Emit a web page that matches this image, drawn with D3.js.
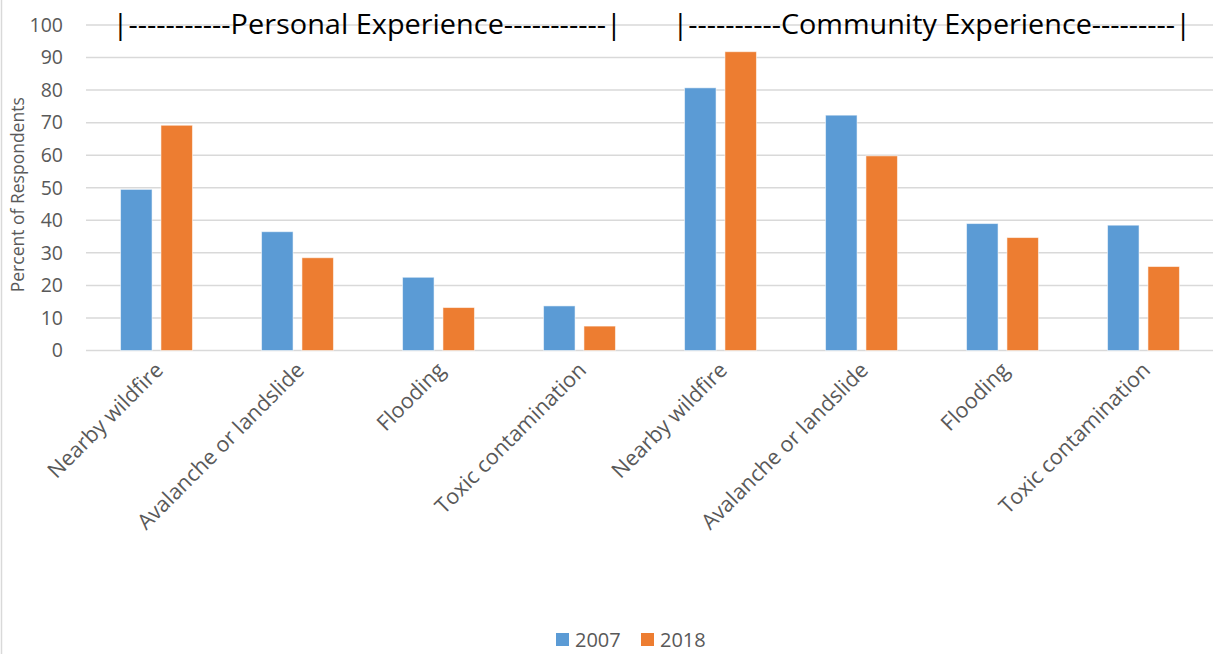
<!DOCTYPE html>
<html>
<head>
<meta charset="utf-8">
<script src="https://cdn.jsdelivr.net/npm/d3@7"></script>
<style>
  html, body { margin: 0; padding: 0; background: #fff; }
  svg { display: block; }
</style>
</head>
<body>
<div id="chart"></div>
<script>
// Hazard experience by category, 2007 vs 2018
const categories = [
  "Nearby wildfire", "Avalanche or landslide", "Flooding", "Toxic contamination",
  "Nearby wildfire", "Avalanche or landslide", "Flooding", "Toxic contamination"
];
const years = ["2007", "2018"];
const values2007 = [49.5, 36.5, 22.5, 13.7, 80.7, 72.3, 39.0, 38.5];
const values2018 = [69.2, 28.5, 13.2, 7.5, 91.8, 59.8, 34.7, 25.8];
const yTicks = [0, 10, 20, 30, 40, 50, 60, 70, 80, 90, 100];
const groupLabels = [
  { text: "|-----------Personal Experience-----------|", from: 0, to: 3 },
  { text: "|----------Community Experience---------|", from: 4, to: 7 }
];
const colors = { "2007": "#5B9BD5", "2018": "#ED7D31" };

const W = 1213, H = 654;
const margin = { left: 86, right: -1, top: 25, bottom: 303.5 };
const plotR = W - margin.right;
const plotB = H - margin.bottom;
const FONT = "'Open Sans', 'Liberation Sans', sans-serif";

const svg = d3.select("#chart").append("svg")
  .attr("width", W).attr("height", H)
  .style("font-family", FONT);

// chart area border (left edge)
svg.append("line")
  .attr("x1", 1.5).attr("x2", 1.5).attr("y1", 0).attr("y2", H)
  .attr("stroke", "#D9D9D9").attr("stroke-width", 1.5);

const x0 = d3.scaleBand()
  .domain(d3.range(categories.length))
  .range([margin.left, plotR])
  .paddingInner(0.49)
  .paddingOuter(0.245);

const x1 = d3.scaleBand()
  .domain(years)
  .range([0, x0.bandwidth()])
  .paddingInner(0.22);

const y = d3.scaleLinear().domain([0, 100]).range([plotB, margin.top]);

// gridlines
svg.append("g")
  .selectAll("line")
  .data(yTicks)
  .join("line")
  .attr("x1", margin.left).attr("x2", plotR)
  .attr("y1", d => y(d)).attr("y2", d => y(d))
  .attr("stroke", "#D9D9D9").attr("stroke-width", 1.5);

// y tick labels
const yAxis = d3.axisLeft(y).tickValues(yTicks).tickSize(0).tickPadding(0);
const gy = svg.append("g").attr("transform", `translate(${margin.left - 23},0)`).call(yAxis);
gy.select(".domain").remove();
gy.selectAll("text")
  .attr("fill", "#595959")
  .style("font-size", "19.5px")
  .style("font-family", FONT);

// y axis title
svg.append("text")
  .attr("transform", `translate(24, ${y(50) + 7}) rotate(-90)`)
  .attr("text-anchor", "middle")
  .attr("fill", "#595959")
  .style("font-size", "17.5px")
  .text("Percent of Respondents");

// bars
const rows = categories.map((c, i) => ({ i, vals: [
  { year: "2007", v: values2007[i] },
  { year: "2018", v: values2018[i] }
]}));

svg.append("g")
  .selectAll("g")
  .data(rows)
  .join("g")
  .attr("transform", d => `translate(${x0(d.i)},0)`)
  .selectAll("rect")
  .data(d => d.vals)
  .join("rect")
  .attr("x", d => x1(d.year))
  .attr("width", x1.bandwidth())
  .attr("y", d => y(d.v))
  .attr("height", d => y(0) - y(d.v))
  .attr("fill", d => colors[d.year])
  .attr("stroke", "#ffffff")
  .attr("stroke-opacity", 0.55)
  .attr("stroke-width", 1);

// category labels, rotated
svg.append("g")
  .selectAll("text")
  .data(categories)
  .join("text")
  .attr("transform", (d, i) => {
    const cx = x0(i) + x0.bandwidth() / 2 + 8;
    return `translate(${cx}, ${plotB + 21}) rotate(-45)`;
  })
  .attr("text-anchor", "end")
  .attr("fill", "#595959")
  .style("font-size", "21.5px")
  .text(d => d);

// section headers across the top, stretched over their group of categories
const headerPad = [{ l: 8, r: 6.5 }, { l: 12, r: 11.5 }];
svg.append("g")
  .selectAll("text")
  .data(groupLabels)
  .join("text")
  .attr("x", (d, i) => x0(d.from) - headerPad[i].l)
  .attr("y", 34)
  .attr("textLength", (d, i) =>
    (x0(d.to) + x0.bandwidth() + headerPad[i].r) - (x0(d.from) - headerPad[i].l))
  .attr("lengthAdjust", "spacingAndGlyphs")
  .attr("fill", "#000")
  .style("font-size", "27px")
  .style("font-family", FONT)
  .text(d => d.text);

// legend
const legend = svg.append("g").attr("transform", "translate(556, 633)");
const legItems = legend.selectAll("g")
  .data(years)
  .join("g")
  .attr("transform", (d, i) => `translate(${i * 85},0)`);
legItems.append("rect")
  .attr("width", 13).attr("height", 13)
  .attr("fill", d => colors[d]);
legItems.append("text")
  .attr("x", 19).attr("y", 13.5)
  .attr("fill", "#595959")
  .style("font-size", "20px")
  .text(d => d);
</script>
</body>
</html>
